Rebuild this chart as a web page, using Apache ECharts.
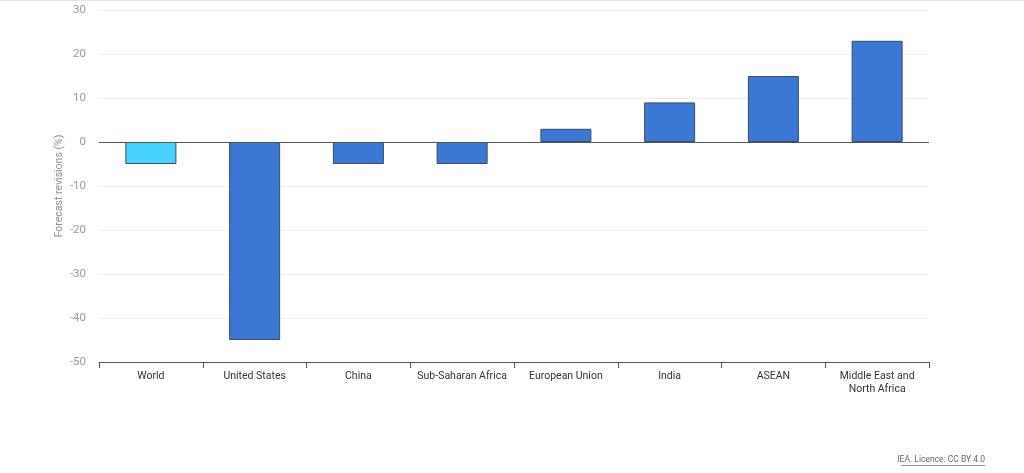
<!DOCTYPE html>
<html><head><meta charset="utf-8">
<script src="https://cdn.jsdelivr.net/npm/echarts@6/dist/echarts.min.js"></script>
<style>html,body{margin:0;padding:0;background:#fff}#c{width:1024px;height:473px}</style>
</head><body><div id="c"></div>
<script>
const categories = ["World","United States","China","Sub-Saharan Africa","European Union","India","ASEAN","Middle East and\nNorth Africa"];
const values = [-5,-45,-5,-5,3,9,15,23];
const yTicks = {min:-50,max:30,interval:10};
const colors = ["#45D3FE","#3B78D5","#3B78D5","#3B78D5","#3B78D5","#3B78D5","#3B78D5","#3B78D5"];

const chart = echarts.init(document.getElementById('c'));
chart.setOption({
  animation:false,
  grid:{left:99,right:95,top:10,bottom:111,containLabel:false},
  xAxis:{type:'category',data:categories,
    axisLine:{onZero:false,lineStyle:{color:'#555',width:1}},
    axisTick:{show:true,length:6,lineStyle:{color:'#555'}},
    axisLabel:{color:'#333',fontSize:10.5,fontFamily:'Roboto, Arial',margin:8,lineHeight:13,interval:0},
    splitLine:{show:false}},
  yAxis:{type:'value',min:yTicks.min,max:yTicks.max,interval:yTicks.interval,
    name:'Forecast revisions (%)',nameLocation:'middle',nameGap:34,nameMoveOverlap:false,
    nameTextStyle:{color:'#8a8f9a',fontSize:10.5,fontFamily:'Roboto, Arial'},
    axisLine:{show:false},axisTick:{show:false},
    axisLabel:{color:'#999',fontSize:11.5,fontFamily:'Roboto, Arial',margin:13},
    splitLine:{lineStyle:{color:'#eeeeee',width:1}}},
  series:[{type:'bar',barWidth:51,
    data:values.map((v,i)=>({value:v,itemStyle:{color:colors[i]}})),
    itemStyle:{borderColor:'#3d4b5c',borderWidth:1},
    markLine:{silent:true,symbol:'none',label:{show:false},
      lineStyle:{color:'#555',width:1,type:'solid'},data:[{yAxis:0}]}
  }],
  graphic:[
    {type:'line',shape:{x1:0,y1:0.5,x2:1024,y2:0.5},style:{stroke:'#e6e6e6',lineWidth:1}},
    {type:'text',x:985,y:464,style:{text:'IEA. Licence: CC BY 4.0',fill:'#666',fontSize:8.5,fontFamily:'Roboto, Arial',align:'right',verticalAlign:'bottom'}},
    {type:'line',shape:{x1:901,y1:465.5,x2:985,y2:465.5},style:{stroke:'#777',lineWidth:0.8}}
  ]
});
</script></body></html>
